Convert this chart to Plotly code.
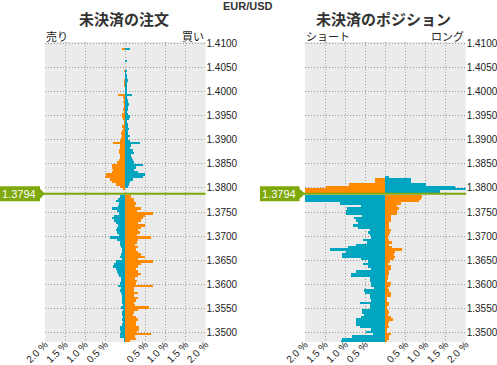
import numpy as np
import plotly.graph_objects as go

W, H = 497, 365

# ---------------- data ----------------
pair = "EUR/USD"
current_price_text = "1.3794"
price_line_level = 1.3788          # where the current-price line sits on the price axis
bucket = 0.0005

levels_above = np.round(np.arange(1.4100, 1.37945, -bucket), 4)   # 1.4100 .. 1.3795
levels_below = np.round(np.arange(1.3790, 1.34845, -bucket), 4)   # 1.3790 .. 1.3485

# 未決済の注文 (open orders), % of total
orders_sell_above = [0, 0, .07, 0, 0, 0, 0, 0, 0, 0,
                     0, .04, 0, 0, 0, .04, .02, .04, 0, 0,
                     0, .18, .06, .04, .06, .04, .04, .06, .03, .08,
                     .09, .06, .04, .04, .08, .06, .08, .11, .09, .11,
                     .12, .31, .14, .12, .16, .16, .14, .14, .16, .21,
                     .34, .33, .31, .34, .49, .51, .39, .33, .24, .14,
                     .06, 0]
orders_buy_above = [0, 0, .11, 0, 0, 0, 0, .03, 0, 0,
                    0, .02, .01, .04, .02, .08, .03, .04, .03, .03,
                    .02, .18, .04, .06, .06, .09, .08, .06, .04, .08,
                    .13, .09, .04, .06, .06, .09, .08, .08, .11, .08,
                    .13, .36, .14, .11, .19, .21, .14, .16, .19, .23,
                    .43, .28, .23, .31, .50, .45, .19, .13, .09, .06,
                    0, 0]
orders_buy_below = [0, .13, .17, .22, .15, .18, .33, .20, .15, .27,
                    .33, .28, .23, .18, .20, .22, .20, .16, .39, .20,
                    .13, .12, .10, .08, .07, .10, .13, .07, .23, .28,
                    .30, .22, .20, .17, .15, .10, .10, .12, .17, .10,
                    .12, .10, .08, .08, .08, .08, .06, .10, .05, .07,
                    .07, .05, .07, .05, .08, .12, .13, .10, .13, .13,
                    .03, .03]
orders_sell_below = [0, .15, .22, .23, .27, .25, .38, .30, .70, .48,
                     .44, .38, .32, .50, .40, .32, .36, .30, .65, .32,
                     .30, .25, .32, .27, .32, .40, .50, .32, .68, .40,
                     .32, .28, .33, .40, .33, .25, .30, .28, .70, .22,
                     .23, .33, .22, .33, .28, .22, .25, .60, .32, .22,
                     .20, .27, .33, .28, .28, .35, .35, .30, .65, .24,
                     .28, .12]

# 未決済のポジション (open positions), % of total
pos_short_above = [0] * 55 + [0, .25, .25, .90, 1.48, 2.2, 2.2]
pos_long_above = [0] * 55 + [.08, .65, .65, 1.00, 1.73, 2.2, 1.36]
pos_long_below = [0, 2.2, 2.2, 2.2, 1.14, .60, .95, .97, .97, .58,
                  .77, .73, .68, .80, .67, .39, .43, .37, .35, .55,
                  .45, .73, .93, 1.37, .97, 1.07, 1.07, .60, .42, .55,
                  .42, .35, .72, .85, .85, .39, .39, .35, .35, .28,
                  .53, .50, .38, .38, .35, .63, .38, .38, .57, .57,
                  .52, .60, .72, .72, .72, .62, .35, .47, .30, .82,
                  1.08, 1.10]
pos_short_below = [0, .92, .88, .84, .40, .28, .33, .30, .28, .15,
                   .13, .13, .10, .10, .08, .13, .12, .08, .07, .10,
                   .17, .10, .17, .42, .23, .22, .25, .22, .12, .07,
                   .13, .13, .10, .10, .07, .07, .05, .13, .12, .07,
                   .10, .13, .15, .05, .03, .08, .08, .05, .07, .08,
                   .07, .15, .18, .10, .07, .08, .05, .02, .15, .10,
                   .08, .05]

x_tickvals = [-2, -1.5, -1, -0.5, 0, 0.5, 1, 1.5, 2]
x_ticktext = ["2.0 %", "1.5 %", "1.0 %", "0.5 %", "", "0.5 %", "1.0 %", "1.5 %", "2.0 %"]
y_tickvals = [round(1.35 + 0.005 * i, 4) for i in range(13)]
y_ticktext = [f"{v:.4f}" for v in y_tickvals]

# ---------------- style ----------------
ORANGE = "#FF8A00"
TEAL = "#00A5BF"
GREEN = "#7FA90B"
BG = "#EBEBEB"
GRID = "#9A9A9A"
JP = "Noto Sans CJK JP"
NUM = "Liberation Sans"

y_range = [1.34812, 1.41021]
plot_top_px, plot_bot_px = 42, 342
x1_px = (45, 205.5)
x2_px = (305, 465.7)


def px_x(x):
    return x / W


def px_y(y):
    return 1 - y / H


price_per_px = (y_range[1] - y_range[0]) / (plot_bot_px - plot_top_px)

fig = go.Figure()


def add_bars(xa, ya, ys, vals, color, sign):
    fig.add_trace(go.Bar(
        orientation="h",
        y=np.asarray(ys) - bucket / 2,
        x=sign * np.asarray(vals, dtype=float),
        width=bucket,
        marker=dict(color=color, line=dict(width=0)),
        xaxis=xa, yaxis=ya, showlegend=False, hoverinfo="skip",
    ))


add_bars("x", "y", levels_above, orders_sell_above, ORANGE, -1)
add_bars("x", "y", levels_above, orders_buy_above, TEAL, 1)
add_bars("x", "y", levels_below, orders_buy_below, TEAL, -1)
add_bars("x", "y", levels_below, orders_sell_below, ORANGE, 1)

add_bars("x2", "y2", levels_above, pos_short_above, ORANGE, -1)
add_bars("x2", "y2", levels_above, pos_long_above, TEAL, 1)
add_bars("x2", "y2", levels_below, pos_long_below, TEAL, -1)
add_bars("x2", "y2", levels_below, pos_short_below, ORANGE, 1)

xaxis_common = dict(
    range=[-2, 2], tickmode="array", tickvals=x_tickvals, ticktext=x_ticktext,
    tickangle=-45, showgrid=True, gridcolor=GRID, griddash="1px,2px", gridwidth=1,
    zeroline=False, showline=False, ticks="", fixedrange=True, automargin=False,
    ticklabelstandoff=-6,
    tickfont=dict(family=NUM, size=10, color="#222222"),
)
yaxis_common = dict(
    range=y_range, tickmode="array", tickvals=y_tickvals, ticktext=y_ticktext,
    side="right", showgrid=True, gridcolor=GRID, griddash="1px,2px", gridwidth=1,
    zeroline=False, showline=False, ticks="", fixedrange=True, automargin=False,
    tickfont=dict(family=NUM, size=10, color="#222222"),
    domain=[px_y(plot_bot_px), px_y(plot_top_px)],
)

fig.update_layout(
    width=W, height=H, autosize=False,
    margin=dict(l=0, r=0, t=0, b=0, pad=0),
    paper_bgcolor="white", plot_bgcolor=BG,
    barmode="overlay", bargap=0,
    xaxis=dict(xaxis_common, domain=[px_x(x1_px[0]), px_x(x1_px[1])], anchor="y"),
    yaxis=dict(yaxis_common, anchor="x"),
    xaxis2=dict(xaxis_common, domain=[px_x(x2_px[0]), px_x(x2_px[1])], anchor="y2"),
    yaxis2=dict(yaxis_common, anchor="x2"),
)

# current price lines and labels
shapes = []
for yref, x_start, x_end, box_l, box_r, tip in (
    ("y", 0, x1_px[1], 0, 40, 45),
    ("y2", 260, x2_px[1] + 0.5, 260, 299.5, 305),
):
    shapes.append(dict(type="line", xref="paper", yref=yref,
                       x0=px_x(x_start), x1=px_x(x_end),
                       y0=price_line_level, y1=price_line_level,
                       line=dict(color=GREEN, width=2), layer="above"))
    hh = 7.5 * price_per_px
    th = 5 * price_per_px
    p = price_line_level
    path = (f"M {px_x(box_l)},{p + hh} L {px_x(box_r)},{p + hh} L {px_x(box_r)},{p + th} "
            f"L {px_x(tip)},{p} L {px_x(box_r)},{p - th} L {px_x(box_r)},{p - hh} "
            f"L {px_x(box_l)},{p - hh} Z")
    shapes.append(dict(type="path", xref="paper", yref=yref, path=path,
                       fillcolor=GREEN, line=dict(width=0), layer="above"))
fig.update_layout(shapes=shapes)

ann = []
for yref, cx in (("y", 19), ("y2", 279)):
    ann.append(dict(xref="paper", yref=yref, x=px_x(cx), y=price_line_level,
                    text=current_price_text, showarrow=False,
                    font=dict(family=NUM, size=11, color="white"),
                    xanchor="center", yanchor="middle"))


def text(x, y, s, size, anchor="center", family=JP, color="#222222"):
    ann.append(dict(xref="paper", yref="paper", x=px_x(x), y=px_y(y), text=s,
                    showarrow=False, font=dict(family=family, size=size, color=color),
                    xanchor=anchor, yanchor="middle"))


text(248, 6, f"<b>{pair}</b>", 11, family=NUM, color="#333333")
text(124, 18, "<b>未決済の注文</b>", 15, color="#333333")
text(383, 18, "<b>未決済のポジション</b>", 15, color="#333333")
text(44, 36, "売り", 11, anchor="left")
text(206, 36, "買い", 11, anchor="right")
text(304, 36, "ショート", 11, anchor="left")
text(466, 36, "ロング", 11, anchor="right")

fig.update_layout(annotations=ann)

fig.write_html(
    "out.html",
    config={"displayModeBar": False},
    post_script="document.body.style.margin='0';document.body.style.padding='0';",
)
